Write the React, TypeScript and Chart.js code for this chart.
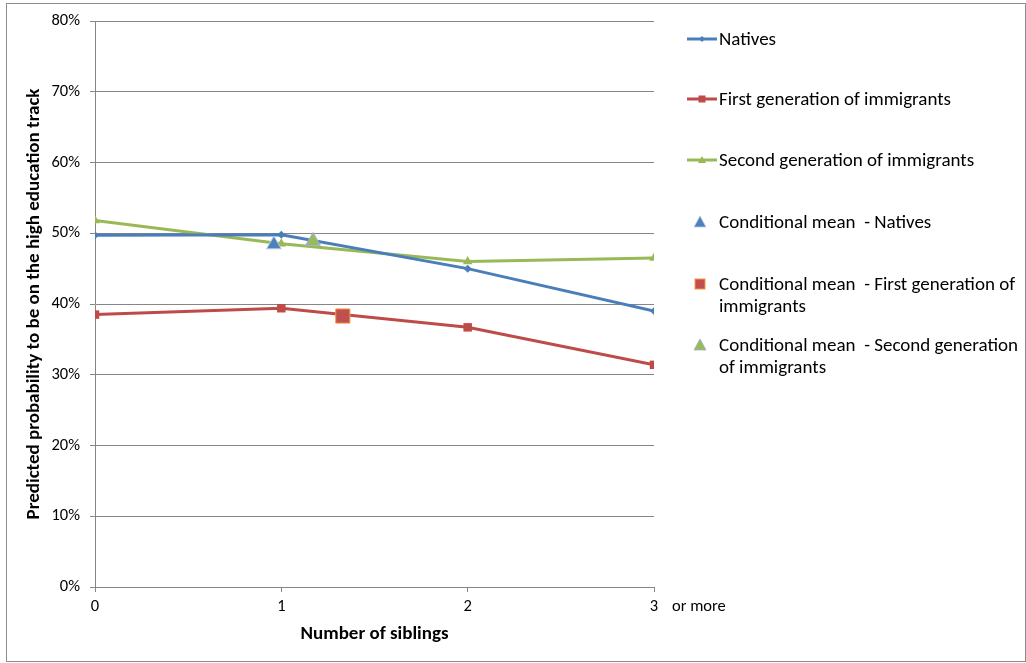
import React, { useEffect, useRef } from "react";
import { Chart, registerables } from "chart.js";

Chart.register(...registerables);

const siblings = [0, 1, 2, 3];
const natives = [49.7, 49.8, 45.0, 39.0];
const firstGen = [38.5, 39.4, 36.7, 31.4];
const secondGen = [51.8, 48.5, 46.0, 46.5];
const condNatives = { x: 0.96, y: 48.4 };
const condFirst = { x: 1.33, y: 38.3 };
const condSecond = { x: 1.17, y: 48.9 };
const yTicks = [0, 10, 20, 30, 40, 50, 60, 70, 80];
const lastTickNote = "or more";
const xTitle = "Number of siblings";
const yTitle = "Predicted probability to be on the high education track";

const BLUE = "#4A7EBB";
const RED = "#BE4B48";
const GREEN = "#98B954";
const FONT = "Carlito, Lato, sans-serif";
const GRID = "#868686";
const TICK_SIZE = 16.5;
const TITLE_SIZE = 19;
const LEGEND_SIZE = 19;

const legendItems = [
  { label: ["Natives"], kind: "line", color: BLUE, marker: "diamond", cy: 39 },
  { label: ["First generation of immigrants"], kind: "line", color: RED, marker: "square", cy: 99 },
  { label: ["Second generation of immigrants"], kind: "line", color: GREEN, marker: "triangle", cy: 160 },
  { label: ["Conditional mean  - Natives"], kind: "point", color: "#4F81BD", stroke: "#B9CDE5", marker: "triangle", cy: 222 },
  { label: ["Conditional mean  - First generation of", "immigrants"], kind: "point", color: "#C0504D", stroke: "#F79646", marker: "square", cy: 284 },
  { label: ["Conditional mean  - Second generation", "of immigrants"], kind: "point", color: "#9BBB59", stroke: "#95B3D7", marker: "triangle", cy: 345 },
];

function Marker({ item }: { item: any }) {
  const cx = 16, cy = 8;
  let shape: any = null;
  if (item.kind === "line") {
    const s = 3;
    if (item.marker === "diamond") shape = <polygon points={`${cx},${cy - s} ${cx + s},${cy} ${cx},${cy + s} ${cx - s},${cy}`} fill={item.color} />;
    else if (item.marker === "square") shape = <rect x={cx - 3.5} y={cy - 3.5} width={7} height={7} fill={item.color} />;
    else shape = <polygon points={`${cx},${cy - 4} ${cx + 4},${cy + 3} ${cx - 4},${cy + 3}`} fill={item.color} />;
    return (
      <svg width={32} height={16} style={{ position: "absolute", left: 686, top: item.cy - 8 }}>
        <line x1={1} y1={cy} x2={31} y2={cy} stroke={item.color} strokeWidth={3} />
        {shape}
      </svg>
    );
  }
  const px = 14;
  if (item.marker === "square") shape = <rect x={px - 5} y={cy - 5} width={10} height={10} fill={item.color} stroke={item.stroke} strokeWidth={1} />;
  else shape = <polygon points={`${px},${cy - 6} ${px + 6},${cy + 5} ${px - 6},${cy + 5}`} fill={item.color} stroke={item.stroke} strokeWidth={0.8} />;
  return (
    <svg width={32} height={16} style={{ position: "absolute", left: 686, top: item.cy - 8 }}>
      {shape}
    </svg>
  );
}

export default function App() {
  const ref = useRef<HTMLCanvasElement>(null);

  useEffect(() => {
    const canvas = ref.current;
    if (!canvas) return;
    const orMore = {
      id: "orMore",
      afterDraw(chart: any) {
        const xs = chart.scales.x;
        const ctx = chart.ctx;
        ctx.save();
        ctx.font = `${TICK_SIZE}px ${FONT}`;
        ctx.fillStyle = "#000";
        ctx.textAlign = "left";
        ctx.textBaseline = "middle";
        ctx.fillText(lastTickNote, xs.getPixelForValue(siblings[siblings.length - 1]) + 18, 607);
        ctx.restore();
      },
    };
    const chart = new Chart(canvas, {
      type: "line",
      data: {
        datasets: [
          {
            label: legendItems[3].label.join(" "),
            data: [condNatives],
            showLine: false,
            pointStyle: "triangle",
            pointRadius: 8.5,
            backgroundColor: "#4F81BD",
            borderColor: "#B9CDE5",
            borderWidth: 1,
            order: 0,
          },
          {
            label: legendItems[4].label.join(" "),
            data: [condFirst],
            showLine: false,
            pointStyle: "rect",
            pointRadius: 10,
            backgroundColor: "#C0504D",
            borderColor: "#F79646",
            borderWidth: 1,
            order: 0,
          },
          {
            label: legendItems[5].label.join(" "),
            data: [condSecond],
            showLine: false,
            pointStyle: "triangle",
            pointRadius: 8.5,
            backgroundColor: "#9BBB59",
            borderColor: "#95B3D7",
            borderWidth: 1,
            order: 0,
          },
          {
            label: "Natives",
            data: siblings.map((x, i) => ({ x, y: natives[i] })),
            borderColor: BLUE,
            backgroundColor: BLUE,
            borderWidth: 3,
            pointStyle: "rectRot",
            pointRadius: 4,
            pointBorderWidth: 0,
            order: 1,
          },
          {
            label: "First generation of immigrants",
            data: siblings.map((x, i) => ({ x, y: firstGen[i] })),
            borderColor: RED,
            backgroundColor: RED,
            borderWidth: 3,
            pointStyle: "rect",
            pointRadius: 6,
            pointBorderWidth: 0,
            order: 2,
          },
          {
            label: "Second generation of immigrants",
            data: siblings.map((x, i) => ({ x, y: secondGen[i] })),
            borderColor: GREEN,
            backgroundColor: GREEN,
            borderWidth: 3,
            pointStyle: "triangle",
            pointRadius: 5.5,
            pointBorderWidth: 0,
            order: 3,
          },
        ],
      },
      options: {
        responsive: false,
        animation: false,
        layout: { padding: { left: 0, top: 21, right: 372, bottom: 0 } },
        plugins: { legend: { display: false }, tooltip: { enabled: false } },
        scales: {
          x: {
            type: "linear",
            min: siblings[0],
            max: siblings[siblings.length - 1],
            afterFit: (s: any) => { s.height = 76; },
            afterBuildTicks: (s: any) => { s.ticks = siblings.map((v) => ({ value: v })); },
            grid: { drawOnChartArea: false, drawTicks: true, tickLength: 5, color: GRID },
            border: { color: GRID, width: 1 },
            ticks: { color: "#000", font: { family: FONT, size: TICK_SIZE }, padding: 5, maxRotation: 0 },
            title: { display: true, text: xTitle, color: "#000", font: { family: FONT, size: TITLE_SIZE, weight: "bold" }, padding: { top: 0, bottom: 17 } },
          },
          y: {
            min: yTicks[0],
            max: yTicks[yTicks.length - 1],
            afterFit: (s: any) => { s.width = 95; },
            afterBuildTicks: (s: any) => { s.ticks = yTicks.map((v) => ({ value: v })); },
            grid: { color: GRID, tickLength: 5, lineWidth: 1 },
            border: { color: GRID, width: 1 },
            ticks: { color: "#000", font: { family: FONT, size: TICK_SIZE }, padding: 10, callback: (v: any) => `${v}%` },
            title: { display: true, text: yTitle, color: "#000", font: { family: FONT, size: TITLE_SIZE, weight: "bold" }, padding: { top: 23, bottom: 0 } },
          },
        },
      },
      plugins: [orMore],
    } as any);
    return () => chart.destroy();
  }, []);

  return (
    <div style={{ position: "absolute", left: 0, top: 0, width: 1026, height: 663, background: "#fff", fontFamily: FONT }}>
      <canvas ref={ref} width={1026} height={663} style={{ position: "absolute", left: 0, top: 0 }} />
      {legendItems.map((item, i) => (
        <React.Fragment key={i}>
          <Marker item={item} />
          <div
            style={{
              position: "absolute",
              left: 719,
              top: item.cy - 11.5,
              fontSize: LEGEND_SIZE,
              lineHeight: "22.5px",
              color: "#000",
              whiteSpace: "pre",
            }}
          >
            {item.label.map((l, j) => (
              <div key={j}>{l}</div>
            ))}
          </div>
        </React.Fragment>
      ))}
      <div
        style={{
          position: "absolute",
          left: 6,
          top: 3,
          width: 1018,
          height: 657,
          border: "1px solid #8c8c8c",
          pointerEvents: "none",
        }}
      />
    </div>
  );
}
